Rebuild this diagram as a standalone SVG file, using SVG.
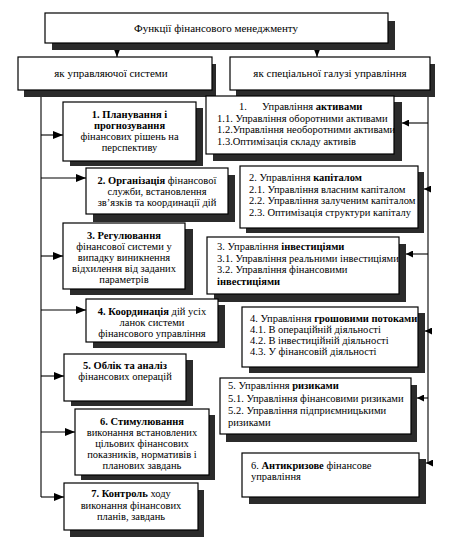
<svg xmlns="http://www.w3.org/2000/svg" width="452" height="547" viewBox="0 0 452 547">
<defs>
<style>
.bx{fill:#fff;stroke:#000;stroke-width:1.2}
.sh{fill:#2b2b2b}
.ln{fill:none;stroke:#000;stroke-width:1.1}
text{font-family:"Liberation Serif","Times New Roman",serif;font-size:10.5px;fill:#000}
.c{text-anchor:middle}
.b{font-weight:bold}
.h{font-size:11px}
</style>
<marker id="ar" viewBox="0 0 10 8" refX="10" refY="4" markerWidth="10" markerHeight="8" markerUnits="userSpaceOnUse" orient="auto">
<path d="M0,0 L10,4 L0,8 Z" fill="#000"/>
</marker>
<marker id="as" viewBox="0 0 8 8" refX="8" refY="4" markerWidth="7" markerHeight="7" markerUnits="userSpaceOnUse" orient="auto">
<path d="M0,0 L8,4 L0,8 Z" fill="#000"/>
</marker>
</defs>
<rect width="452" height="547" fill="#fff"/>

<g id="connectors">
<path class="ln" d="M117,43 V57" marker-end="url(#ar)"/>
<path class="ln" d="M317,43 V57" marker-end="url(#ar)"/>
<path class="ln" d="M41,97 V497"/>
<path class="ln" d="M41,135 H63" marker-end="url(#ar)"/>
<path class="ln" d="M41,178 H86" marker-end="url(#ar)"/>
<path class="ln" d="M41,256 H63" marker-end="url(#ar)"/>
<path class="ln" d="M41,310 H86" marker-end="url(#ar)"/>
<path class="ln" d="M41,376 H64" marker-end="url(#ar)"/>
<path class="ln" d="M41,432 H75" marker-end="url(#ar)"/>
<path class="ln" d="M41,497 H64" marker-end="url(#ar)"/>
<path class="ln" d="M428,97 V463"/>
<path class="ln" d="M428,123 H402" marker-end="url(#as)"/>
<path class="ln" d="M428,189 H424" marker-end="url(#as)"/>
<path class="ln" d="M428,254 H406" marker-end="url(#as)"/>
<path class="ln" d="M428,331 H425" marker-end="url(#as)"/>
<path class="ln" d="M428,398 H417" marker-end="url(#as)"/>
<path class="ln" d="M428,463 H426" marker-end="url(#as)"/>
</g>

<g id="title">
<rect class="sh" x="52" y="21" width="343" height="29"/>
<rect class="bx" x="45" y="13" width="343" height="30"/>
<text class="c h" x="216" y="32">Функції фінансового менеджменту</text>
</g>

<g id="left-head">
<rect class="sh" x="24" y="64" width="192" height="33"/>
<rect class="bx" x="18" y="57" width="194" height="33"/>
<text class="c h" x="111" y="77">як управляючої системи</text>
</g>

<g id="right-head">
<rect class="sh" x="236" y="64" width="199" height="33"/>
<rect class="bx" x="230" y="57" width="200" height="33"/>
<text class="c h" x="330" y="77">як спеціальної галузі управління</text>
</g>

<g id="l1">
<rect class="sh" x="70" y="108" width="133" height="58"/>
<rect class="bx" x="63" y="102" width="133" height="59"/>
<text class="c b" x="129.5" y="118">1. Планування і</text>
<text class="c b" x="129.5" y="129">прогнозування</text>
<text class="c" x="129.5" y="140">фінансових рішень на</text>
<text class="c" x="129.5" y="151">перспективу</text>
</g>

<g id="r1">
<rect class="sh" x="213" y="102" width="189" height="59"/>
<rect class="bx" x="206" y="96" width="188" height="58"/>
<text x="239" y="110">1.<tspan x="262">Управління </tspan><tspan class="b">активами</tspan></text>
<text x="217" y="122">1.1. Управління оборотними активами</text>
<text x="217" y="133">1.2.Управління необоротними активами</text>
<text x="217" y="145">1.3.Оптимізація складу активів</text>
</g>

<g id="l2">
<rect class="sh" x="93" y="175" width="142" height="47"/>
<rect class="bx" x="86" y="168" width="142" height="46"/>
<text class="c" x="157" y="184"><tspan class="b">2. Організація</tspan> фінансової</text>
<text class="c" x="157" y="195">служби, встановлення</text>
<text class="c" x="157" y="206">звʼязків та координації дій</text>
</g>

<g id="r2">
<rect class="sh" x="246" y="172" width="178" height="61"/>
<rect class="bx" x="240" y="166" width="178" height="62"/>
<text x="249" y="181">2. Управління <tspan class="b">капіталом</tspan></text>
<text x="249" y="193">2.1. Управління власним капіталом</text>
<text x="249" y="204">2.2. Управління залученим капіталом</text>
<text x="249" y="216">2.3. Оптимізація структури капіталу</text>
</g>

<g id="l3">
<rect class="sh" x="70" y="229" width="123" height="66"/>
<rect class="bx" x="63" y="223" width="122" height="66"/>
<text class="c b" x="124" y="239">3. Регулювання</text>
<text class="c" x="124" y="250">фінансової системи у</text>
<text class="c" x="124" y="261">випадку виникнення</text>
<text class="c" x="124" y="272">відхилення від заданих</text>
<text class="c" x="124" y="283">параметрів</text>
</g>

<g id="r3">
<rect class="sh" x="214" y="244" width="192" height="58"/>
<rect class="bx" x="207" y="237" width="192" height="57"/>
<text x="217" y="250">3. Управління <tspan class="b">інвестиціями</tspan></text>
<text x="217" y="262">3.1. Управління реальними інвестиціями</text>
<text x="217" y="273">3.2. Управління фінансовими</text>
<text class="b" x="217" y="285">інвестиціями</text>
</g>

<g id="l4">
<rect class="sh" x="93" y="305" width="132" height="43"/>
<rect class="bx" x="86" y="299" width="132" height="43"/>
<text class="c" x="152" y="315"><tspan class="b">4. Координація</tspan> дій усіх</text>
<text class="c" x="152" y="326">ланок системи</text>
<text class="c" x="152" y="337">фінансового управління</text>
</g>

<g id="r4">
<rect class="sh" x="249" y="313" width="176" height="60"/>
<rect class="bx" x="242" y="307" width="176" height="60"/>
<text x="250" y="322">4. Управління <tspan class="b">грошовими потоками</tspan></text>
<text x="250" y="333">4.1. В операційній діяльності</text>
<text x="250" y="344">4.2. В інвестиційній діяльності</text>
<text x="250" y="355">4.3. У фінансовій діяльності</text>
</g>

<g id="l5">
<rect class="sh" x="71" y="360" width="122" height="46"/>
<rect class="bx" x="64" y="354" width="122" height="47"/>
<text class="c b" x="125" y="369">5. Облік та аналіз</text>
<text class="c" x="125" y="380">фінансових операцій</text>
</g>

<g id="r5">
<rect class="sh" x="226" y="385" width="191" height="57"/>
<rect class="bx" x="220" y="378" width="191" height="56"/>
<text x="228" y="389">5. Управління <tspan class="b">ризиками</tspan></text>
<text x="228" y="402">5.1. Управління фінансовими ризиками</text>
<text x="228" y="414">5.2. Управління підприємницькими</text>
<text x="228" y="426">ризиками</text>
</g>

<g id="l6">
<rect class="sh" x="81" y="415" width="134" height="65"/>
<rect class="bx" x="75" y="409" width="134" height="66"/>
<text class="c b" x="142" y="425">6. Стимулювання</text>
<text class="c" x="142" y="436">виконання встановлених</text>
<text class="c" x="142" y="447">цільових фінансових</text>
<text class="c" x="142" y="458">показників, нормативів і</text>
<text class="c" x="142" y="469">планових завдань</text>
</g>

<g id="r6">
<rect class="sh" x="249" y="459" width="177" height="45"/>
<rect class="bx" x="242" y="453" width="177" height="44"/>
<text x="251" y="469">6. <tspan class="b">Антикризове</tspan> фінансове</text>
<text x="251" y="480">управління</text>
</g>

<g id="l7">
<rect class="sh" x="70" y="490" width="134" height="47"/>
<rect class="bx" x="64" y="483" width="134" height="47"/>
<text class="c" x="131" y="497"><tspan class="b">7. Контроль</tspan> ходу</text>
<text class="c" x="131" y="509">виконання фінансових</text>
<text class="c" x="131" y="520">планів, завдань</text>
</g>
</svg>
